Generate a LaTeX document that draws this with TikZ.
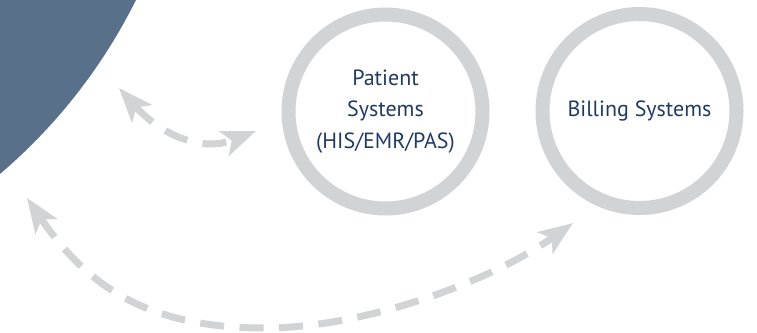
\documentclass[tikz,border=0pt]{standalone}
\usepackage{fontspec}
\setmainfont{PT Sans}
\usetikzlibrary{arrows.meta}
\definecolor{bluefill}{HTML}{587089}
\definecolor{ringgray}{HTML}{D1D3D4}
\definecolor{navytext}{HTML}{1F3B63}
\begin{document}
\begin{tikzpicture}[x=1pt,y=-1pt,
  ring/.style={circle, draw=ringgray, line width=14pt, minimum size=194pt, inner sep=0pt, align=center, text=navytext, font=\fontsize{22}{31.7}\selectfont},
  link/.style={draw=ringgray, line width=7pt, dash pattern=on 24pt off 15.5pt, {Stealth[length=34pt,width=26pt,inset=8pt]}-{Stealth[length=34pt,width=26pt,inset=8pt]}}]
\useasboundingbox (0,0) rectangle (757,332);
\clip (0,0) rectangle (757,332);
\fill[bluefill] (-356,-244) circle[radius=549pt];
\node[ring] (patient) at (385.5,111.5) {Patient\\Systems\\(HIS/EMR/PAS)};
\node[ring] (billing) at (639.5,111) {Billing Systems};
\coordinate (a1) at (119,88);
\coordinate (b1) at (256,131);
\coordinate (a2) at (27,198);
\coordinate (b2) at (573,223);
\coordinate (m2) at (265,328);
\draw[link] (a1) .. controls (159,133) and (200,153) .. (b1);
\draw[link] (a2) .. controls (89,288.8) and (150,328) .. (m2) .. controls (365,328) and (491.6,281) .. (b2);
\end{tikzpicture}
\end{document}
